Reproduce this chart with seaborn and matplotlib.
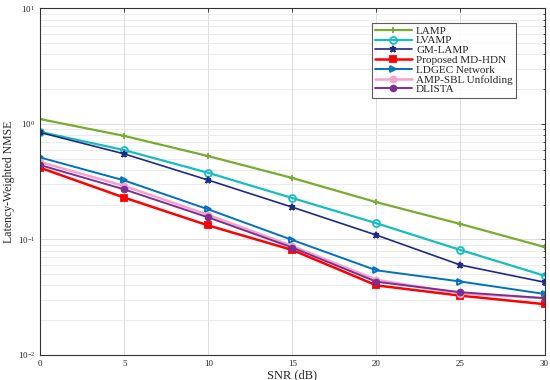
import numpy as np
import matplotlib
matplotlib.use("Agg")
import matplotlib.pyplot as plt
import seaborn as sns
from matplotlib.ticker import LogLocator, NullFormatter

snr = [0, 5, 10, 15, 20, 25, 30]
lamp = [1.10, 0.787, 0.526, 0.34, 0.21, 0.136, 0.086]
lvamp = [0.853, 0.593, 0.377, 0.228, 0.138, 0.081, 0.0485]
gm_lamp = [0.843, 0.55, 0.326, 0.19, 0.109, 0.060, 0.0426]
proposed = [0.417, 0.23, 0.132, 0.081, 0.040, 0.0326, 0.0275]
ldgec = [0.512, 0.324, 0.182, 0.0988, 0.054, 0.0432, 0.0337]
amp_sbl = [0.467, 0.29, 0.163, 0.0877, 0.0447, 0.034, 0.031]
dlista = [0.44, 0.271, 0.155, 0.085, 0.043, 0.0349, 0.031]

names = ["LAMP", "LVAMP", "GM-LAMP", "Proposed MD-HDN", "LDGEC Network",
         "AMP-SBL Unfolding", "DLISTA"]
series = [lamp, lvamp, gm_lamp, proposed, ldgec, amp_sbl, dlista]

# color, marker, filled, linewidth, markersize
styles = [
    ("#77AC30", "+", True, 1.6, 5),
    ("#17BEBE", "o", False, 1.6, 5),
    ("#1F2A86", "*", True, 1.2, 4.5),
    ("#FF0000", "s", True, 1.8, 3.8),
    ("#0072BD", ">", False, 1.4, 4.2),
    ("#F4A3CF", "o", True, 1.8, 4.2),
    ("#7E2F8E", "o", True, 1.4, 4.2),
]

sns.set_style("white")
plt.rcParams["font.family"] = ["Liberation Serif", "DejaVu Serif"]
plt.rcParams["mathtext.fontset"] = "stix"

fig, ax = plt.subplots(figsize=(5.5, 3.8), dpi=100)
for name, vals, (c, m, filled, lw, ms) in zip(names, series, styles):
    sns.lineplot(x=snr, y=vals, ax=ax, color=c, lw=lw, marker=m, markersize=ms,
                 markeredgecolor=c, markerfacecolor=c if filled else "none",
                 markeredgewidth=1.3, label=name)

ax.set_yscale("log")
ax.set_ylim(1e-2, 1e1)
ax.set_xlim(0, 30)
ax.set_xticks(snr)
ax.yaxis.set_major_locator(LogLocator(base=10, numticks=10))
ax.yaxis.set_minor_locator(LogLocator(base=10, subs=np.arange(2, 10), numticks=20))
ax.yaxis.set_minor_formatter(NullFormatter())
ax.grid(True, which="major", color="#dddddd", lw=0.7)
ax.grid(True, which="minor", axis="y", color="#e8e8e8", lw=0.6)
ax.tick_params(which="both", direction="in", top=True, right=True, labelsize=6.5,
               length=3, width=0.6)
ax.tick_params(which="minor", length=1.8)
for sp in ax.spines.values():
    sp.set_color("#333333")
    sp.set_linewidth(0.8)
ax.set_xlabel("SNR (dB)", fontsize=9, labelpad=1)
ax.set_ylabel("Latency-Weighted NMSE", fontsize=8.5, labelpad=2)

leg = ax.legend(loc="upper right", bbox_to_anchor=(0.955, 0.975), fontsize=8,
                handlelength=3.3, labelspacing=0.0, borderpad=0.3,
                frameon=True, fancybox=False, handletextpad=0.4)
leg.get_frame().set_edgecolor("#333333")
leg.get_frame().set_linewidth(0.8)

fig.subplots_adjust(left=0.073, right=0.99, top=0.978, bottom=0.066)
fig.savefig("out.png", dpi=100)
